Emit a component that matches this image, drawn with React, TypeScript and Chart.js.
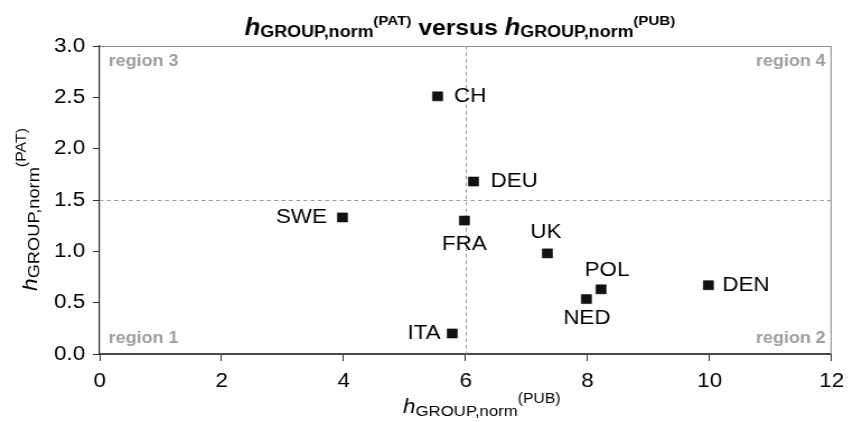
import React, { useEffect, useRef } from "react";
import { Chart, registerables } from "chart.js";

Chart.register(...registerables);

// ---- data ----
const countries = ["CH", "DEU", "SWE", "FRA", "UK", "POL", "NED", "ITA", "DEN"];
const hPub = [5.54, 6.13, 3.98, 5.98, 7.34, 8.22, 7.98, 5.78, 9.98];
const hPat = [2.51, 1.68, 1.33, 1.3, 0.98, 0.63, 0.535, 0.2, 0.67];
const xTicks = [0, 2, 4, 6, 8, 10, 12];
const yTicks = [0, 0.5, 1, 1.5, 2, 2.5, 3];
const xThreshold = 6;
const yThreshold = 1.5;
const regionNames = ["region 1", "region 2", "region 3", "region 4"];

// ---- label placement (style, css px relative to point) ----
const labelPlacement: Record<string, { align: CanvasTextAlign; dx: number; dy: number }> = {
  CH: { align: "left", dx: 16.5, dy: 0 },
  DEU: { align: "left", dx: 17, dy: -0.5 },
  SWE: { align: "right", dx: -15.5, dy: 0 },
  FRA: { align: "center", dx: 0, dy: 23.5 },
  UK: { align: "center", dx: -1.5, dy: -20.5 },
  POL: { align: "center", dx: 6, dy: -19 },
  NED: { align: "center", dx: 0.5, dy: 19 },
  ITA: { align: "right", dx: -11.5, dy: 0 },
  DEN: { align: "left", dx: 14, dy: 0 },
};

const CSS_W = 853;
const H = 422;
const INT_W = 762;
const SX = CSS_W / INT_W;
const px = (css: number) => css / SX;
const FF = '"Liberation Sans", Arial, sans-serif';

type Run = { t: string; font: string; dy: number };

function runsWidth(ctx: CanvasRenderingContext2D, runs: Run[]) {
  let w = 0;
  for (const r of runs) {
    ctx.font = r.font;
    w += ctx.measureText(r.t).width;
  }
  return w;
}
function drawRuns(ctx: CanvasRenderingContext2D, runs: Run[], x: number, y: number) {
  let cx = x;
  ctx.textAlign = "left";
  ctx.textBaseline = "alphabetic";
  for (const r of runs) {
    ctx.font = r.font;
    ctx.fillText(r.t, cx, y + r.dy);
    cx += ctx.measureText(r.t).width;
  }
}

const decorPlugin = {
  id: "decor",
  beforeDatasetsDraw(chart: any) {
    const { ctx, chartArea: a, scales } = chart;
    const xs = scales.x;
    const ys = scales.y;
    ctx.save();
    // frame top/right
    ctx.strokeStyle = "#8c8c8c";
    ctx.lineWidth = 1;
    ctx.beginPath();
    ctx.moveTo(a.left, a.top + 0.5);
    ctx.lineTo(a.right - 0.5, a.top + 0.5);
    ctx.lineTo(a.right - 0.5, a.bottom);
    ctx.stroke();
    // dashed thresholds
    ctx.strokeStyle = "#9a9a9a";
    ctx.setLineDash([3.5, 3]);
    ctx.beginPath();
    const vx = Math.round(xs.getPixelForValue(xThreshold)) + 0.5;
    ctx.moveTo(vx, a.top);
    ctx.lineTo(vx, a.bottom);
    const hy = Math.round(ys.getPixelForValue(yThreshold)) + 0.5;
    ctx.moveTo(a.left, hy);
    ctx.lineTo(a.right, hy);
    ctx.stroke();
    ctx.setLineDash([]);
    // region labels
    ctx.fillStyle = "#9c9c9c";
    ctx.font = `bold 16px ${FF}`;
    ctx.textBaseline = "middle";
    ctx.textAlign = "left";
    ctx.fillText(regionNames[0], a.left + px(9), a.bottom - 15);
    ctx.fillText(regionNames[2], a.left + px(9), a.top + 16);
    ctx.textAlign = "right";
    ctx.fillText(regionNames[1], a.right - px(6), a.bottom - 15);
    ctx.fillText(regionNames[3], a.right - px(6), a.top + 16);
    ctx.restore();
  },
  afterDraw(chart: any) {
    const { ctx, scales } = chart;
    const xs = scales.x;
    const ys = scales.y;
    ctx.save();
    ctx.fillStyle = "#000";
    // point labels
    ctx.font = `20px ${FF}`;
    ctx.textBaseline = "middle";
    countries.forEach((c, i) => {
      const p = labelPlacement[c];
      ctx.textAlign = p.align;
      ctx.fillText(c, xs.getPixelForValue(hPub[i]) + px(p.dx), ys.getPixelForValue(hPat[i]) + p.dy);
    });
    // title
    const titleRuns: Run[] = [
      { t: "h", font: `italic bold 23px ${FF}`, dy: 0 },
      { t: "GROUP,norm", font: `bold 16px ${FF}`, dy: 2 },
      { t: "(PAT)", font: `bold 13.5px ${FF}`, dy: -10 },
      { t: " versus ", font: `bold 22px ${FF}`, dy: 0 },
      { t: "h", font: `italic bold 23px ${FF}`, dy: 0 },
      { t: "GROUP,norm", font: `bold 16px ${FF}`, dy: 2 },
      { t: "(PUB)", font: `bold 13.5px ${FF}`, dy: -10 },
    ];
    const tw = runsWidth(ctx, titleRuns);
    drawRuns(ctx, titleRuns, px(460) - tw / 2, 34.5);
    // x title
    const xRuns: Run[] = [
      { t: "h", font: `italic 20px ${FF}`, dy: 0 },
      { t: "GROUP,norm", font: `15px ${FF}`, dy: 3 },
      { t: "(PUB)", font: `14px ${FF}`, dy: -10 },
    ];
    drawRuns(ctx, xRuns, px(403), 413);
    // y title (rotated)
    ctx.save();
    ctx.scale(1 / SX, 1);
    ctx.translate(37, 291);
    ctx.rotate(-Math.PI / 2);
    ctx.scale(1.14, 1);
    const yRuns: Run[] = [
      { t: "h", font: `italic 20px ${FF}`, dy: 0 },
      { t: "GROUP,norm", font: `16px ${FF}`, dy: 2.5 },
      { t: "(PAT)", font: `14px ${FF}`, dy: -11.5 },
    ];
    drawRuns(ctx, yRuns, 0, 0);
    ctx.restore();
    ctx.restore();
  },
};

export default function App() {
  const ref = useRef<HTMLCanvasElement | null>(null);
  useEffect(() => {
    const canvas = ref.current!;
    const chart = new Chart(canvas, {
      type: "scatter",
      data: {
        datasets: [
          {
            data: hPub.map((x, i) => ({ x, y: hPat[i] })),
            pointStyle: "rect",
            pointRadius: 6.4,
            pointHoverRadius: 6.4,
            backgroundColor: "#111",
            borderColor: "#111",
            borderWidth: 0.6,
          },
        ],
      },
      options: {
        responsive: false,
        maintainAspectRatio: false,
        animation: false,
        devicePixelRatio: 1,
        events: [],
        layout: { padding: { top: 46, right: 14, left: 0, bottom: 0 } },
        plugins: {
          legend: { display: false },
          tooltip: { enabled: false },
          title: { display: false },
        },
        scales: {
          x: {
            type: "linear",
            min: 0,
            max: 12,
            afterBuildTicks: (s: any) => {
              s.ticks = xTicks.map((v) => ({ value: v }));
            },
            afterFit: (s: any) => {
              s.height = 68;
            },
            grid: {
              display: true,
              drawOnChartArea: false,
              drawTicks: true,
              tickLength: 7,
              tickColor: "#333",
              color: "#333",
            },
            border: { display: true, color: "#4a4a4a", width: 2 },
            ticks: {
              font: { family: FF, size: 20 },
              color: "#000",
              padding: 8,
              maxRotation: 0,
              autoSkip: false,
            },
          },
          y: {
            type: "linear",
            min: 0,
            max: 3,
            afterBuildTicks: (s: any) => {
              s.ticks = yTicks.map((v) => ({ value: v }));
            },
            afterFit: (s: any) => {
              s.width = 89;
            },
            grid: {
              display: true,
              drawOnChartArea: false,
              drawTicks: true,
              tickLength: 6,
              tickColor: "#333",
              color: "#333",
            },
            border: { display: true, color: "#222", width: 1.2 },
            ticks: {
              font: { family: FF, size: 20 },
              color: "#000",
              padding: 7,
              autoSkip: false,
              callback: (v: any) => Number(v).toFixed(1),
            },
          },
        },
      },
      plugins: [decorPlugin],
    } as any);
    return () => chart.destroy();
  }, []);
  return (
    <div style={{ position: "fixed", left: 0, top: 0, width: CSS_W, height: H, background: "#fff" }}>
      <canvas
        ref={ref}
        width={INT_W}
        height={H}
        style={{ display: "block", width: CSS_W + "px", height: H + "px" }}
      />
    </div>
  );
}
